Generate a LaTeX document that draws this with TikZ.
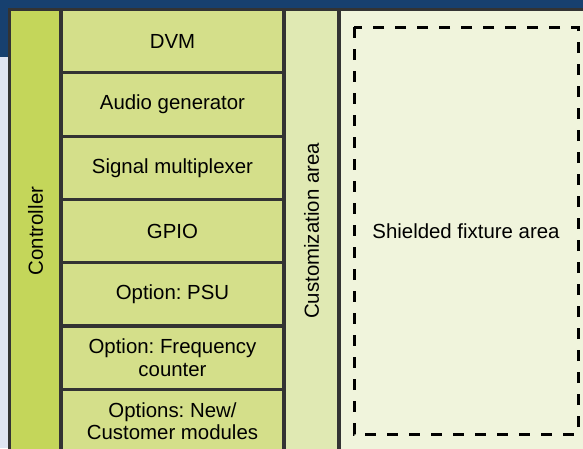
\documentclass[tikz,border=0pt]{standalone}
\usepackage{fontspec}
\setmainfont{Liberation Sans}
\frenchspacing
\definecolor{navy}{HTML}{17406F}
\definecolor{haze}{HTML}{DFE4F2}
\definecolor{frame}{HTML}{333333}
\definecolor{ctrlgreen}{HTML}{C4D65A}
\definecolor{modgreen}{HTML}{D4DF8A}
\definecolor{custgreen}{HTML}{E0E9B3}
\definecolor{shieldgreen}{HTML}{F0F4DC}

\begin{document}
\begin{tikzpicture}[x=1pt,y=-1pt,
  box/.style={draw=frame,line width=3.2pt},
  lbl/.style={font=\fontsize{20.4}{22.5}\selectfont,align=center}]
\useasboundingbox (0,0) rectangle (583,448);
\clip (0,0) rectangle (583,448);
\fill[navy] (0,0) rectangle (583,57);
\fill[haze] (0,57) rectangle (583,448);
% columns
\draw[box,fill=shieldgreen] (339,9.5) rectangle (600,452.6);
\draw[box,fill=custgreen] (284,9.5) rectangle (339,452.6);
\draw[box,fill=ctrlgreen] (9.5,9.5) rectangle (61,452.6);
\foreach \y/\n/\t in {9.5/dvm/DVM,72.8/audio/Audio generator,136.1/mux/Signal multiplexer,199.4/gpio/GPIO,262.7/psu/Option: PSU,326/freq/{Option: Frequency\\counter},389.3/newmod/{Options: New/\\Customer modules}}{
  \draw[box,fill=modgreen] (61,\y) rectangle (284,\y+63.3);
  \node[lbl] (\n) at (172.5,\y+31.65) {\t};}
\node[lbl,rotate=90] (controller) at (35.5,231) {Controller};
\node[lbl,rotate=90] (custom) at (311.5,231) {Customization area};
\draw[line width=3pt,dash pattern=on 11pt off 11pt] (354,27) rectangle (578,434);
\node[lbl] (shielded) at (466,231) {Shielded fixture area};
\end{tikzpicture}
\end{document}
